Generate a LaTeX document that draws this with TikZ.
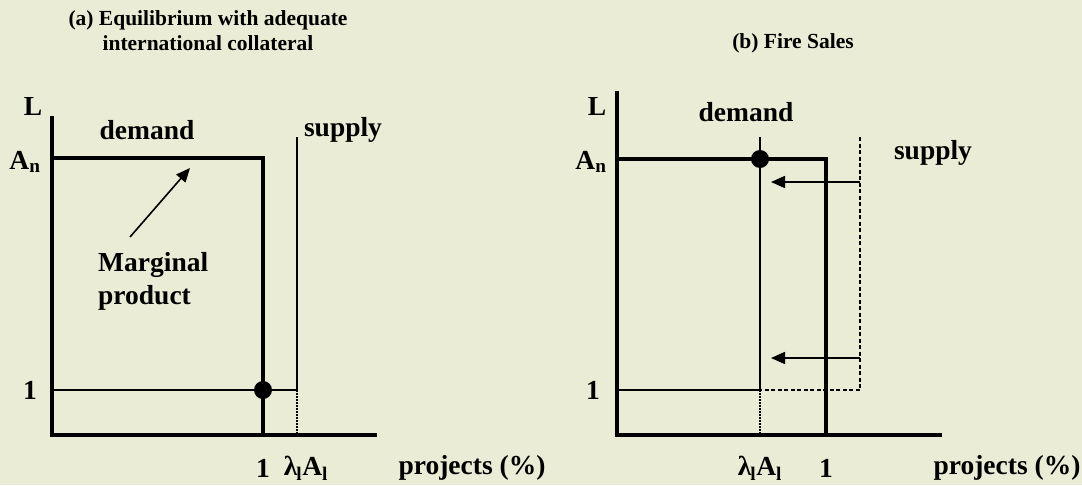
\documentclass[tikz,border=0pt]{standalone}
\usepackage{fontspec}
\setmainfont{Liberation Serif}
\usetikzlibrary{arrows.meta}
\definecolor{bg}{RGB}{234,236,214}
\tikzset{
  thickln/.style={line width=3.5pt, line cap=rect},
  thinln/.style={line width=1.6pt},
  dotln/.style={line width=1.2pt, dash pattern=on 1.5pt off 1.5pt},
  dashln/.style={line width=1.8pt, dash pattern=on 4pt off 2.5pt},
  lbl/.style={font=\fontsize{27.5}{30}\selectfont\bfseries, inner sep=0pt},
  ttl/.style={font=\fontsize{21.5}{25}\selectfont\bfseries, inner sep=0pt, align=center},
  eqdot/.style={circle, fill=black, minimum width=18pt, minimum height=18pt, inner sep=0pt},
  arr/.style={line width=1.6pt, -{Triangle[length=14pt,width=12pt]}}
}
\begin{document}
\begin{tikzpicture}[x=1pt,y=-1pt]
\fill[bg] (0,0) rectangle (1082,485);
\useasboundingbox (0,0) rectangle (1082,485);
% ---------- panel (a)
\node[ttl] (ta) at (208,31) {(a) Equilibrium with adequate\\international collateral};
\coordinate (aO) at (52,435);
\coordinate (aYt) at (52,118);
\coordinate (aXr) at (375,435);
\draw[thickln] (aYt) -- (aO) -- (aXr);
\node[lbl] (aL) at (33,106) {L};
\node[lbl] (aAn) at (25,162) {A\textsubscript{n}};
\node[lbl] (a1) at (30,390) {1};
\coordinate (aD1) at (52,158);
\coordinate (aD2) at (263,158);
\coordinate (aD3) at (263,435);
\draw[thickln] (aD1) -- (aD2) -- (aD3);
\coordinate (aS1) at (297,137);
\coordinate (aS2) at (297,390);
\coordinate (aS3) at (297,435);
\coordinate (aH1) at (52,390);
\draw[thinln] (aS1) -- (aS2) -- (aH1);
\draw[dotln] (aS2) -- (aS3);
\node[eqdot] (aE) at (263,390) {};
\node[lbl] (adem) at (147,130) {demand};
\node[lbl] (asup) at (343,130) {supply};
\node[lbl] (ax1) at (263,468) {1};
\node[lbl] (axl) at (306,468) {λ\kern-1pt\textsubscript{l}A\textsubscript{l}};
\node[lbl] (axp) at (472,468) {projects (\%)};
\node[lbl, align=left, anchor=west] (amp) at (98,281) {Marginal\\[3pt]product};
\coordinate (aAt) at (130,237);
\coordinate (aAh) at (190,168);
\draw[arr] (aAt) -- (aAh);
% ---------- panel (b)
\node[ttl] (tb) at (793,43) {(b) Fire Sales};
\coordinate (bO) at (617,435);
\coordinate (bYt) at (617,93);
\coordinate (bXr) at (940,435);
\draw[thickln] (bYt) -- (bO) -- (bXr);
\node[lbl] (bL) at (597,106) {L};
\node[lbl] (bAn) at (591,162) {A\textsubscript{n}};
\node[lbl] (b1) at (593,390) {1};
\coordinate (bD1) at (617,159);
\coordinate (bD2) at (826,159);
\coordinate (bD3) at (826,435);
\draw[thickln] (bD1) -- (bD2) -- (bD3);
\coordinate (bV1) at (760,137);
\coordinate (bV2) at (760,390);
\coordinate (bV3) at (760,435);
\coordinate (bH1) at (617,390);
\draw[thinln] (bV1) -- (bV2) -- (bH1);
\draw[dotln] (bV2) -- (bV3);
\coordinate (bS1) at (860,137);
\coordinate (bS2) at (860,390);
\draw[dashln] (bS1) -- (bS2) -- (bV2);
\node[eqdot] (bE) at (760,159) {};
\coordinate (bA1t) at (860,182);
\coordinate (bA1h) at (771,182);
\coordinate (bA2t) at (860,358);
\coordinate (bA2h) at (771,358);
\draw[arr] (bA1t) -- (bA1h);
\draw[arr] (bA2t) -- (bA2h);
\node[lbl] (bdem) at (746,112) {demand};
\node[lbl] (bsup) at (933,153) {supply};
\node[lbl] (bxl) at (760,468) {λ\kern-1pt\textsubscript{l}A\textsubscript{l}};
\node[lbl] (bx1) at (826,468) {1};
\node[lbl] (bxp) at (1007,468) {projects (\%)};
\end{tikzpicture}
\end{document}
